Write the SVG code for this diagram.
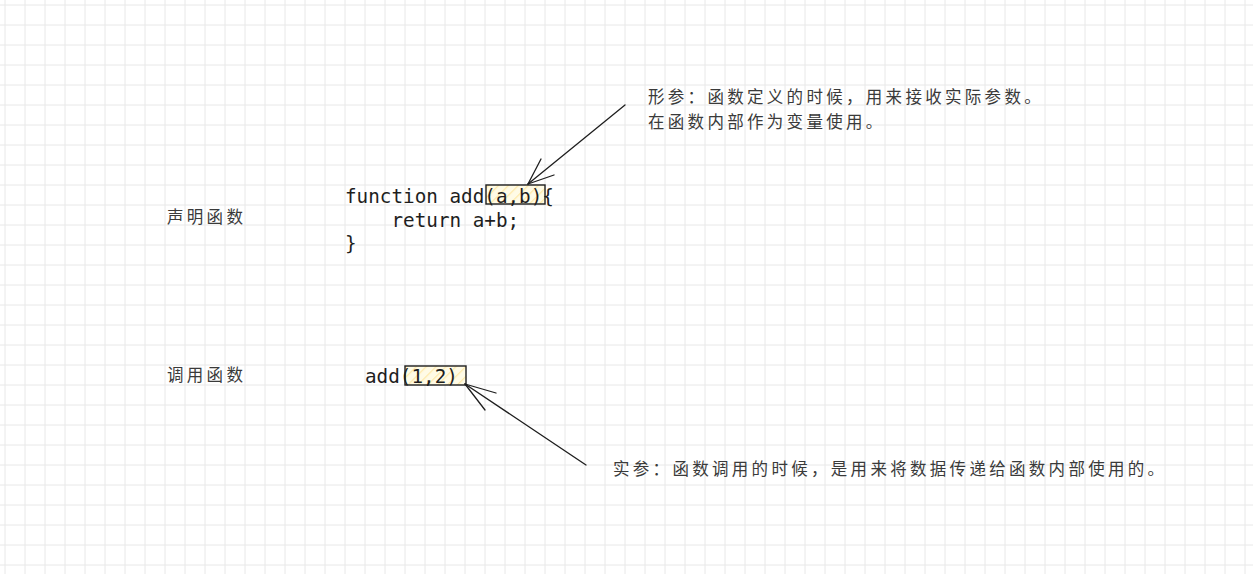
<svg xmlns="http://www.w3.org/2000/svg" width="1253" height="574" viewBox="0 0 1253 574">
  <defs>
    <pattern id="grid" x="0" y="0" width="20" height="20" patternUnits="userSpaceOnUse">
      <line x1="5" y1="0" x2="5" y2="20" stroke="#e8e8e8" stroke-width="1"/>
      <line x1="0" y1="5" x2="20" y2="5" stroke="#e8e8e8" stroke-width="1"/>
    </pattern>
    <pattern id="hatch" x="0" y="0" width="7" height="7" patternUnits="userSpaceOnUse" patternTransform="rotate(45)">
      <rect width="7" height="7" fill="#fffbe6"/>
      <line x1="0" y1="0" x2="0" y2="7" stroke="#ffe9a6" stroke-width="2.5"/>
    </pattern>
    <style>
      .code { font-family: "DejaVu Sans Mono", "Liberation Mono", monospace; font-size: 19.3px; fill: #1e1e1e; }
      .note { font-family: "Noto Sans CJK SC", "Noto Sans", sans-serif; font-size: 16.5px; letter-spacing: 3.3px; fill: #3a3a3a; }
      .hl { fill: url(#hatch); stroke: #1e1e1e; stroke-width: 1.4; }
      .conn line { stroke: #1e1e1e; stroke-width: 1.3; stroke-linecap: round; }
    </style>
  </defs>
  <rect width="1253" height="574" fill="#ffffff"/>
  <rect width="1253" height="574" fill="url(#grid)"/>

  <g id="label-declare">
    <text class="note" x="167" y="223">声明函数</text>
  </g>
  <g id="label-call">
    <text class="note" x="167" y="381">调用函数</text>
  </g>

  <g id="code-declare">
    <rect class="hl" x="486" y="185" width="59" height="19"/>
    <text class="code" x="345" y="203">function add(a,b){</text>
    <text class="code" x="391.5" y="227">return a+b;</text>
    <text class="code" x="345" y="250">}</text>
  </g>

  <g id="code-call">
    <rect class="hl" x="405" y="366" width="61" height="19"/>
    <text class="code" x="365" y="383">add(1,2)</text>
  </g>

  <g id="note-formal">
    <text class="note" x="648" y="103">形参：函数定义的时候，用来接收实际参数。</text>
    <text class="note" x="648" y="128">在函数内部作为变量使用。</text>
  </g>

  <g id="note-actual">
    <text class="note" x="613" y="475">实参：函数调用的时候，是用来将数据传递给函数内部使用的。</text>
  </g>

  <g id="connectors" class="conn">
    <line x1="625" y1="105" x2="528" y2="184"/>
    <line x1="528" y1="184" x2="541" y2="159"/>
    <line x1="528" y1="184" x2="554" y2="175"/>
    <line x1="586" y1="465" x2="465" y2="384"/>
    <line x1="465" y1="384" x2="496" y2="393"/>
    <line x1="465" y1="384" x2="485" y2="410"/>
  </g>
</svg>
